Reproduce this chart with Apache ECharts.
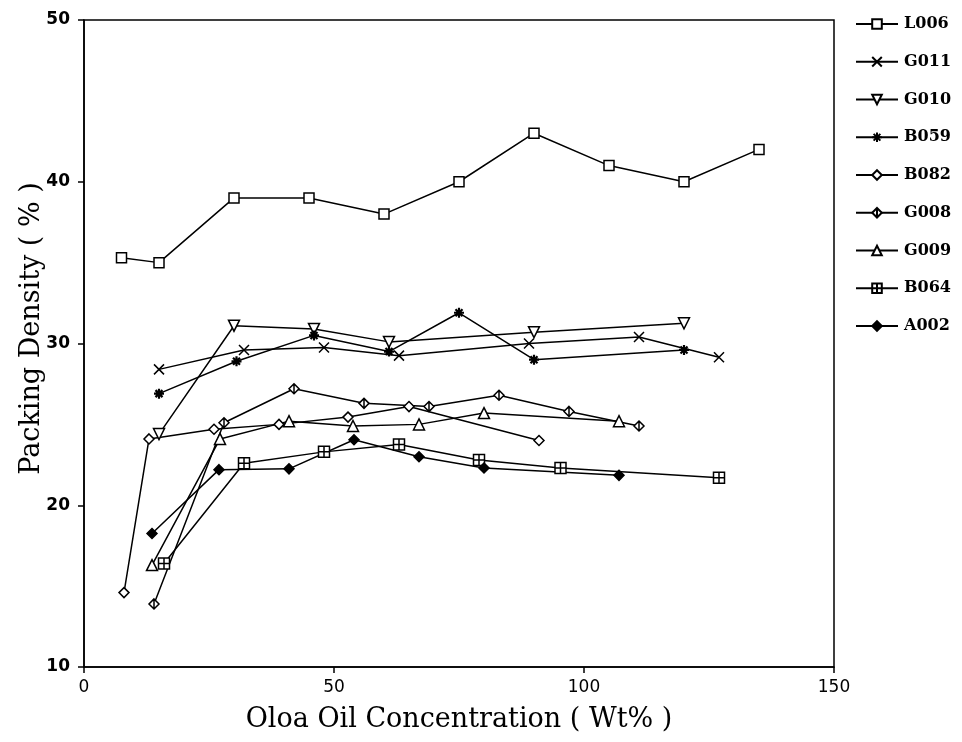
<!DOCTYPE html>
<html>
<head>
<meta charset="utf-8">
<script src="https://cdn.jsdelivr.net/npm/echarts@6/dist/echarts.min.js"></script>
<style>
  html, body { margin: 0; padding: 0; background: #fff; }
  #chart { width: 962px; height: 742px; }
</style>
</head>
<body>
<div id="chart"></div>
<script>
// Packing density vs. Oloa oil concentration, one line per toner sample
const xTicks = [0, 50, 100, 150];
const yTicks = [10, 20, 30, 40, 50];

const L006 = [[7.5, 35.3], [15, 35.0], [30, 39.0], [45, 39.0], [60, 38.0], [75, 40.0], [90, 43.0], [105, 41.0], [120, 40.0], [135, 42.0]];
const G011 = [[15, 28.4], [32, 29.6], [48, 29.75], [63, 29.25], [89, 30.0], [111, 30.4], [127, 29.15]];
const G010 = [[15, 24.4], [30, 31.1], [46, 30.9], [61, 30.1], [90, 30.7], [120, 31.25]];
const B059 = [[15, 26.9], [30.5, 28.9], [46, 30.5], [61, 29.5], [75, 31.9], [90, 29.0], [120, 29.6]];
const B082 = [[8, 14.6], [13, 24.1], [26, 24.7], [39, 25.0], [52.8, 25.45], [65, 26.1], [91, 24.0]];
const G008 = [[14, 13.9], [28, 25.1], [42, 27.2], [56, 26.3], [69, 26.1], [83, 26.8], [97, 25.8], [111, 24.9]];
const G009 = [[13.6, 16.3], [27.2, 24.1], [41, 25.2], [53.8, 24.9], [67, 25.0], [80, 25.7], [107, 25.2]];
const B064 = [[16, 16.4], [32, 22.6], [48, 23.3], [63, 23.75], [79, 22.8], [95.3, 22.3], [127, 21.7]];
const A002 = [[13.6, 18.25], [27, 22.2], [41, 22.25], [54, 24.05], [67, 23.0], [80, 22.3], [107, 21.85]];

const seriesNames = ['L006', 'G011', 'G010', 'B059', 'B082', 'G008', 'G009', 'B064', 'A002'];
const seriesData = [L006, G011, G010, B059, B082, G008, G009, B064, A002];

// marker shapes: [symbol, size, filled]
const markers = {
  L006: ['path://M-1,-1 L1,-1 L1,1 L-1,1 Z', 10, false],
  G011: ['path://M-1,-1 L1,1 M-1,1 L1,-1', 10, false],
  G010: ['path://M-1,-0.9 L1,-0.9 L0,0.9 Z', 11, false],
  B059: ['path://M-1,0 L1,0 M0,-1 L0,1 M-0.7,-0.7 L0.7,0.7 M-0.7,0.7 L0.7,-0.7', 10, true],
  B082: ['path://M0,-1.2 L1,0 L0,1.2 L-1,0 Z', 10, false],
  G008: ['path://M0,-1.2 L1,0 L0,1.2 L-1,0 Z M0,-1.2 L0,1.2', 10, false],
  G009: ['path://M0,-1 L1,0.8 L-1,0.8 Z', 11, false],
  B064: ['path://M-1,-1 L1,-1 L1,1 L-1,1 Z M0,-1 L0,1 M-1,0 L1,0', 11, false],
  A002: ['path://M0,-1.2 L1,0 L0,1.2 L-1,0 Z', 10, true]
};

const chart = echarts.init(document.getElementById('chart'), null, { renderer: 'canvas' });

const series = seriesNames.map((name, i) => {
  const m = markers[name];
  return {
    name: name,
    type: 'line',
    data: seriesData[i],
    symbol: m[0],
    symbolSize: m[1],
    showAllSymbol: true,
    lineStyle: { color: '#000', width: 1.5 },
    itemStyle: { color: m[2] ? '#000' : '#fff', borderColor: '#000', borderWidth: name === 'B059' ? 2.2 : 1.5 },
    emphasis: { disabled: true },
    animation: false
  };
});

chart.setOption({
  backgroundColor: '#fff',
  animation: false,
  grid: {
    left: 84, right: 128, top: 20, bottom: 75,
    show: true, borderColor: '#000', borderWidth: 1.5, backgroundColor: 'transparent'
  },
  legend: {
    orient: 'vertical',
    left: 850, top: 11,
    itemWidth: 42, itemHeight: 12,
    itemGap: 21.75,
    selectedMode: false,
    textStyle: { fontFamily: 'DejaVu Serif', fontWeight: 'bold', fontSize: 16, color: '#000', padding: [0, 0, 0, 1] },
    data: seriesNames
  },
  xAxis: {
    type: 'value',
    min: xTicks[0], max: xTicks[xTicks.length - 1], interval: 50,
    name: 'Oloa Oil Concentration ( Wt% )',
    nameLocation: 'middle', nameGap: 39, nameMoveOverlap: false,
    nameTextStyle: { fontFamily: 'DejaVu Serif', fontSize: 27, color: '#000' },
    axisLine: { show: true, onZero: false, lineStyle: { color: '#000', width: 1.5 } },
    axisTick: { show: true, inside: false, length: 6, lineStyle: { color: '#000', width: 1.5 } },
    axisLabel: { color: '#000', fontFamily: 'DejaVu Sans', fontSize: 17, margin: 12 },
    splitLine: { show: false }
  },
  yAxis: {
    type: 'value',
    min: yTicks[0], max: yTicks[yTicks.length - 1], interval: 10,
    name: 'Packing Density ( % )',
    nameLocation: 'middle', nameGap: 39, nameRotate: 90, nameMoveOverlap: false,
    nameTextStyle: { fontFamily: 'DejaVu Serif', fontSize: 27, color: '#000', padding: [0, 0, 0, 30] },
    axisLine: { show: true, onZero: false, lineStyle: { color: '#000', width: 1.5 } },
    axisTick: { show: true, inside: false, length: 6, lineStyle: { color: '#000', width: 1.5 } },
    axisLabel: { color: '#000', fontFamily: 'DejaVu Sans', fontWeight: 'bold', fontSize: 17, margin: 14 },
    splitLine: { show: false }
  },
  series: series
});
</script>
</body>
</html>
